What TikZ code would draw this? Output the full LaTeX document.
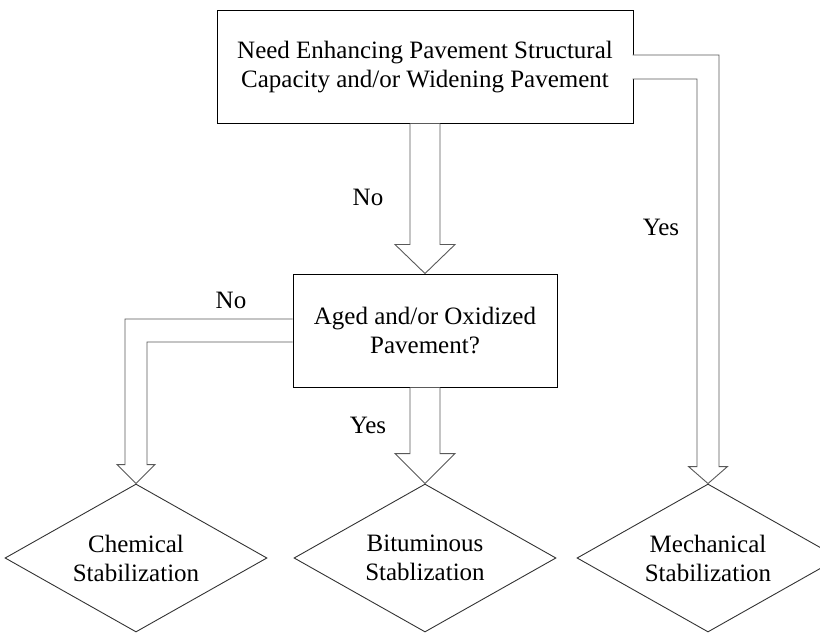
\documentclass[tikz,border=0pt]{standalone}
\usepackage{fontspec}
\setmainfont{Liberation Serif}
\usetikzlibrary{shapes.geometric,calc}
\begin{document}
\begin{tikzpicture}[
  x=1pt, y=-1pt,
  box/.style={rectangle, draw, line width=1pt, align=center, font=\fontsize{25}{29}\selectfont},
  choice/.style={diamond, draw=black!80, line width=0.9pt, align=center, inner sep=0pt, shape aspect=1.8, minimum width=262pt, minimum height=148pt, font=\fontsize{25}{29}\selectfont},
  hollow/.style={draw=black!65, fill=white, line width=0.9pt, line join=miter},
  lbl/.style={font=\fontsize{25}{29}\selectfont},
  node distance=263.5pt
]
\useasboundingbox (0,0) rectangle (820,634);
\clip (0,0) rectangle (820,634);

% Questions
\node[box, minimum width=416pt, minimum height=112pt] (need) at (425,67) {Need Enhancing Pavement Structural\\Capacity and/or Widening Pavement};
\node[box, below of=need, minimum width=264pt, minimum height=113pt] (aged) {Aged and/or Oxidized\\Pavement?};

% Outcomes
\node[choice, below of=aged, node distance=227.5pt] (bitum) {Bituminous\\Stablization};
\node[choice, left of=bitum, node distance=289pt] (chem) {Chemical\\Stabilization};
\node[choice, right of=bitum, node distance=283pt] (mech) {Mechanical\\Stabilization};

% Hollow arrows
\draw[hollow] ($(need.south)+(-15,0)$) -- ($(aged.north)+(-15,-29)$) -- ++(-15,0) -- (aged.north) -- ++(30,-29) -- ++(-15,0) -- ($(need.south)+(15,0)$);
\draw[hollow] ($(aged.south)+(-15,0)$) -- ($(bitum.north)+(-15,-30)$) -- ++(-15,0) -- (bitum.north) -- ++(30,-30) -- ++(-15,0) -- ($(aged.south)+(15,0)$);
\draw[hollow] ($(aged.west)+(0,-11.5)$) -| ($(chem.north)+(-11,-19)$) -- ++(-8,0) -- (chem.north) -- ++(19,-19) -- ++(-8,0) |- ($(aged.west)+(0,11.5)$);
\draw[hollow] ($(need.east)+(-1,-12)$) -| ($(mech.north)+(11,-17)$) -- ++(8.5,0) -- (mech.north) -- ++(-19.5,-17) -- ++(8.5,0) |- ($(need.east)+(-1,12)$);

% Labels
\node[lbl] (no1) at (368,197) {No};
\node[lbl] (no2) at (231,300) {No};
\node[lbl] (yes1) at (368,425) {Yes};
\node[lbl] (yes2) at (661,227) {Yes};

\end{tikzpicture}
\end{document}
